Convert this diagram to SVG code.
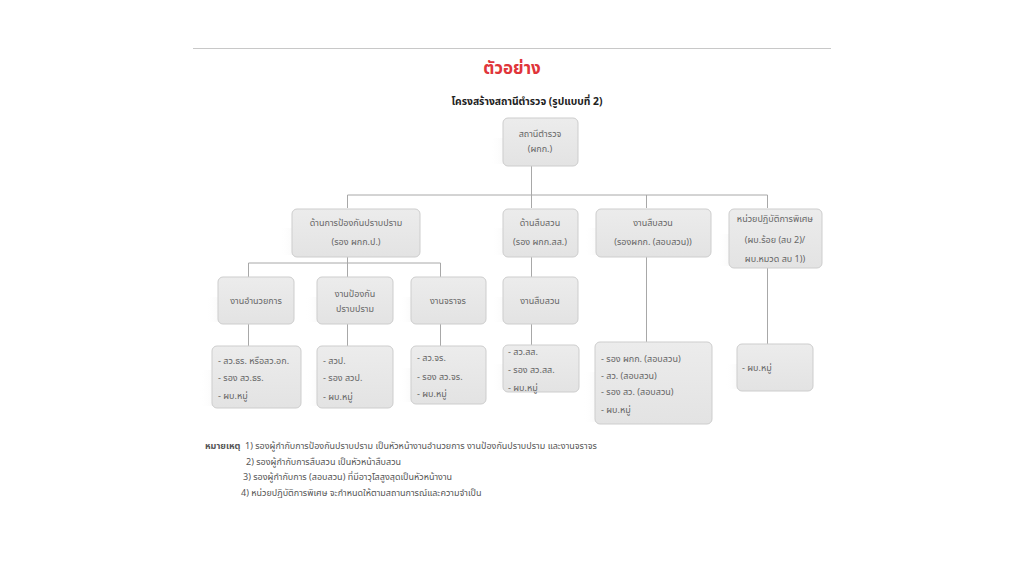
<svg xmlns="http://www.w3.org/2000/svg" width="1024" height="576" viewBox="0 0 1024 576">
<defs>
<linearGradient id="sh" x1="0" y1="0" x2="1" y2="0">
<stop offset="0" stop-color="#ffffff" stop-opacity="0"/>
<stop offset="1" stop-color="#e2e2e2" stop-opacity="1"/>
</linearGradient>
<linearGradient id="bx" x1="0" y1="0" x2="0" y2="1">
<stop offset="0" stop-color="#ececec"/>
<stop offset="1" stop-color="#e3e3e3"/>
</linearGradient>
</defs>
<style>
.box{fill:url(#bx);stroke:#cdcdcd;stroke-width:1}
.sh{fill:url(#sh)}
.t{font-family:"Noto Sans Thai","Tahoma","Leelawadee UI","Noto Sans","DejaVu Sans",sans-serif;font-size:9px;fill:#666}
.c{text-anchor:middle}
.ln{stroke:#a8a8a8;stroke-width:1;fill:none}
.n{font-family:"Noto Sans Thai","Tahoma","Noto Sans","DejaVu Sans",sans-serif;font-size:9px;fill:#555}
</style>
<rect width="1024" height="576" fill="#ffffff"/>
<line x1="193" y1="48.5" x2="831" y2="48.5" stroke="#c8c8c8" stroke-width="1"/>
<text x="512" y="74" text-anchor="middle" font-family="&quot;Noto Sans Thai&quot;,Tahoma,&quot;Noto Sans&quot;,sans-serif" font-size="17" font-weight="bold" fill="#e0353a">ตัวอย่าง</text>
<text x="527" y="105" text-anchor="middle" font-family="&quot;Noto Sans Thai&quot;,Tahoma,&quot;Noto Sans&quot;,sans-serif" font-size="10.3" font-weight="bold" fill="#222">โครงสร้างสถานีตำรวจ (รูปแบบที่ 2)</text>

<g id="connectors">
<path class="ln" d="M531.5 166V195M347.5 195H767.5M347.5 195V208M531.5 195V208M646.5 195V208M767.5 195V208"/>
<path class="ln" d="M347.5 257V263M248.5 263H440.5M248.5 263V277M347.5 263V277M440.5 263V277"/>
<path class="ln" d="M248.5 324V346M347.5 324V346M440.5 324V346"/>
<path class="ln" d="M531.5 257V277M531.5 324V345"/>
<path class="ln" d="M646.5 257V342M767.5 268V344"/>
</g>

<g id="n-station">
<rect class="sh" x="490" y="138" width="30" height="26" rx="4"/>
<rect class="box" x="503" y="118" width="75" height="48" rx="5"/>
<text class="t c" x="540" y="137">สถานีตำรวจ</text>
<text class="t c" x="540" y="152">(ผกก.)</text>
</g>

<g id="n-prevent">
<rect class="sh" x="280" y="228" width="30" height="27" rx="4"/>
<rect class="box" x="292" y="209" width="128" height="48" rx="5"/>
<text class="t c" x="356" y="226">ด้านการป้องกันปราบปราม</text>
<text class="t c" x="356" y="245">(รอง ผกก.ป.)</text>
</g>

<g id="n-invest">
<rect class="sh" x="491" y="228" width="30" height="27" rx="4"/>
<rect class="box" x="503" y="209" width="75" height="48" rx="5"/>
<text class="t c" x="540" y="226">ด้านสืบสวน</text>
<text class="t c" x="540" y="245">(รอง ผกก.สส.)</text>
</g>

<g id="n-inquiry">
<rect class="sh" x="584" y="228" width="30" height="27" rx="4"/>
<rect class="box" x="596" y="209" width="115" height="48" rx="5"/>
<text class="t c" x="653" y="226">งานสืบสวน</text>
<text class="t c" x="653" y="245">(รองผกก. (สอบสวน))</text>
</g>

<g id="n-special">
<rect class="sh" x="717" y="234" width="30" height="32" rx="4"/>
<rect class="box" x="729" y="209" width="93" height="59" rx="5"/>
<text class="t c" x="775" y="222">หน่วยปฏิบัติการพิเศษ</text>
<text class="t c" x="775" y="243">(ผบ.ร้อย (สบ 2)/</text>
<text class="t c" x="775" y="262">ผบ.หมวด สบ 1))</text>
</g>

<g id="n-admin">
<rect class="sh" x="206" y="297" width="30" height="25" rx="4"/>
<rect class="box" x="218" y="277" width="76" height="47" rx="5"/>
<text class="t c" x="256" y="304">งานอำนวยการ</text>
</g>

<g id="n-suppress">
<rect class="sh" x="305" y="297" width="30" height="25" rx="4"/>
<rect class="box" x="317" y="277" width="76" height="47" rx="5"/>
<text class="t c" x="355" y="297">งานป้องกัน</text>
<text class="t c" x="355" y="312">ปราบปราม</text>
</g>

<g id="n-traffic">
<rect class="sh" x="399" y="297" width="30" height="25" rx="4"/>
<rect class="box" x="411" y="277" width="75" height="47" rx="5"/>
<text class="t c" x="448" y="304">งานจราจร</text>
</g>

<g id="n-invest2">
<rect class="sh" x="491" y="297" width="30" height="25" rx="4"/>
<rect class="box" x="503" y="277" width="75" height="47" rx="5"/>
<text class="t c" x="540" y="304">งานสืบสวน</text>
</g>

<g id="n-admin-staff">
<rect class="sh" x="200" y="370" width="30" height="36" rx="4"/>
<rect class="box" x="212" y="346" width="89" height="62" rx="5"/>
<text class="t" x="218" y="364">- สว.ธร. หรือสว.อก.</text>
<text class="t" x="218" y="381">- รอง สว.ธร.</text>
<text class="t" x="218" y="399">- ผบ.หมู่</text>
</g>

<g id="n-suppress-staff">
<rect class="sh" x="305" y="370" width="30" height="36" rx="4"/>
<rect class="box" x="317" y="346" width="76" height="62" rx="5"/>
<text class="t" x="323" y="364">- สวป.</text>
<text class="t" x="323" y="381">- รอง สวป.</text>
<text class="t" x="323" y="400">- ผบ.หมู่</text>
</g>

<g id="n-traffic-staff">
<rect class="sh" x="399" y="368" width="30" height="34" rx="4"/>
<rect class="box" x="411" y="346" width="75" height="58" rx="5"/>
<text class="t" x="417" y="361">- สว.จร.</text>
<text class="t" x="417" y="380">- รอง สว.จร.</text>
<text class="t" x="417" y="397">- ผบ.หมู่</text>
</g>

<g id="n-invest-staff">
<rect class="sh" x="491" y="364" width="30" height="26" rx="4"/>
<rect class="box" x="503" y="345" width="76" height="47" rx="5"/>
<text class="t" x="508" y="355">- สว.สส.</text>
<text class="t" x="508" y="373">- รอง สว.สส.</text>
<text class="t" x="508" y="391">- ผบ.หมู่</text>
</g>

<g id="n-inquiry-staff">
<rect class="sh" x="583" y="372" width="30" height="50" rx="4"/>
<rect class="box" x="595" y="342" width="117" height="82" rx="5"/>
<text class="t" x="601" y="362">- รอง ผกก. (สอบสวน)</text>
<text class="t" x="601" y="379">- สว. (สอบสวน)</text>
<text class="t" x="601" y="395">- รอง สว. (สอบสวน)</text>
<text class="t" x="601" y="413">- ผบ.หมู่</text>
</g>

<g id="n-special-staff">
<rect class="sh" x="725" y="364" width="30" height="25" rx="4"/>
<rect class="box" x="737" y="344" width="76" height="47" rx="5"/>
<text class="t" x="742" y="371">- ผบ.หมู่</text>
</g>

<g id="notes">
<text class="n" x="205" y="449" font-weight="bold" fill="#333">หมายเหตุ</text>
<text class="n" x="245" y="449">1) รองผู้กำกับการป้องกันปราบปราม เป็นหัวหน้างานอำนวยการ งานป้องกันปราบปราม และงานจราจร</text>
<text class="n" x="246" y="465">2) รองผู้กำกับการสืบสวน เป็นหัวหน้าสืบสวน</text>
<text class="n" x="243" y="480">3) รองผู้กำกับการ (สอบสวน) ที่มีอาวุโสสูงสุดเป็นหัวหน้างาน</text>
<text class="n" x="241" y="496">4) หน่วยปฏิบัติการพิเศษ จะกำหนดให้ตามสถานการณ์และความจำเป็น</text>
</g>
</svg>
